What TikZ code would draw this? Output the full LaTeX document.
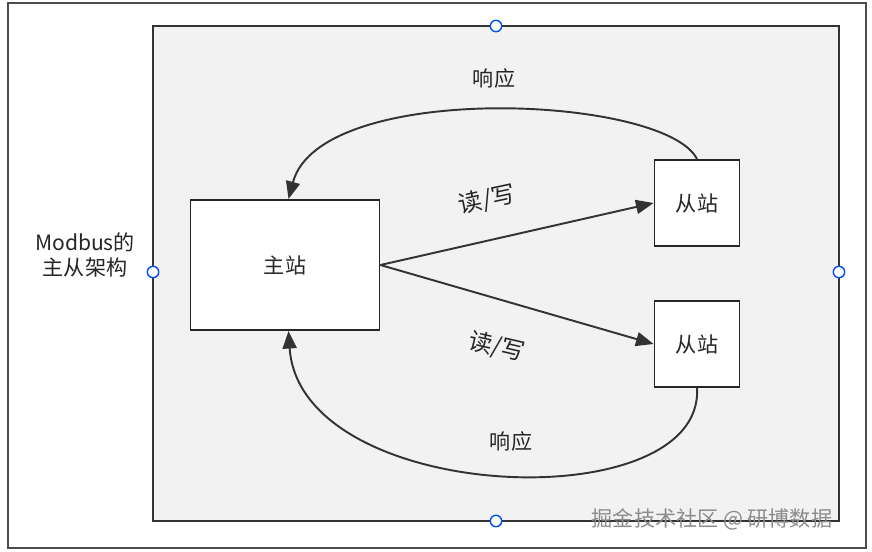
\documentclass[tikz,border=0pt]{standalone}
\usepackage{fontspec}
\setmainfont{Noto Sans CJK SC}
\usetikzlibrary{arrows.meta}
\tikzset{
  box/.style={draw=black!85,line width=1.1pt,fill=white},
  link/.style={-{Triangle[length=10pt,width=8pt]},line width=1.1pt,draw=black!80},
  handle/.style={circle,draw=blue!70!cyan,fill=white,inner sep=0pt,minimum size=6.5pt,thick},
  lbl/.style={font=\fontsize{12}{14}\selectfont,text=black!85}
}
\begin{document}
\begin{tikzpicture}[x=0.02cm,y=-0.02cm]
  \useasboundingbox (0,0) rectangle (872,551);
  \draw[black!70,line width=1pt,fill=white] (8,3) rectangle (866,548);
  \draw[black!80,line width=1.1pt,fill=black!5] (153,26) rectangle (839,521);
  % handles
  \foreach \p/\n in {{(496,26)}/ht,{(153,272)}/hl,{(839,272)}/hr,{(496,521)}/hb}
    \node[handle] (\n) at \p {};
  \node[lbl,align=center] (title) at (85,255) {Modbus的\\主从架构};
  % stations
  \node[box,minimum width=3.78cm,minimum height=2.6cm,lbl] (master) at (285,265) {主站};
  \node[box,minimum width=1.7cm,minimum height=1.72cm,lbl] (slaveA) at (697,203) {从站};
  \node[box,minimum width=1.7cm,minimum height=1.72cm,lbl] (slaveB) at (697,344) {从站};
  % read/write
  \draw[link] (master.east) -- (slaveA.west);
  \draw[link] (master.east) -- (slaveB.west);
  \node[lbl,font=\fontsize{13.5}{15}\selectfont,rotate=12] (rwA) at (487,200) {读/写};
  \node[lbl,font=\fontsize{13.5}{15}\selectfont,rotate=-13] (rwB) at (497,347) {读/写};
  % responses
  \draw[link] (slaveA.north) .. controls (665,95) and (320,80) .. ([xshift=2]master.north);
  \draw[link] (slaveB.south) .. controls (705,520) and (300,505) .. ([xshift=2]master.south);
  \node[lbl] (respA) at (494,78) {响应};
  \node[lbl] (respB) at (511,441) {响应};
  \node[font=\fontsize{12}{14}\selectfont,text=black!45] (mark) at (712,519) {掘金技术社区 @ 研博数据};
\end{tikzpicture}
\end{document}
